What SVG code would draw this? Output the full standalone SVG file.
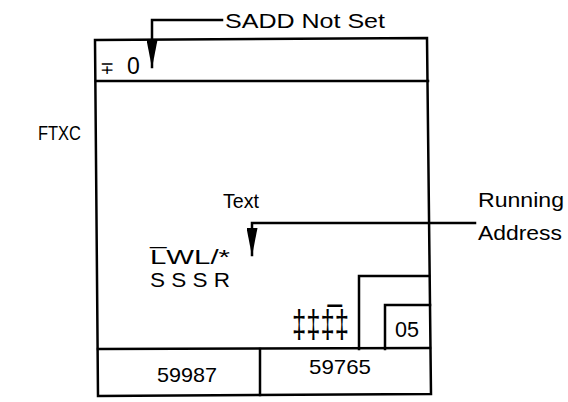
<svg xmlns="http://www.w3.org/2000/svg" width="568" height="402" viewBox="0 0 568 402">
<style>
.ln{fill:none;stroke:#000;stroke-width:2.5;stroke-linecap:square}
.bx{fill:none;stroke:#000;stroke-width:2.5}
.t{font-family:"Liberation Sans",Arial,sans-serif;font-size:21px;fill:#000}
</style>
<defs>
<marker id="ah" markerWidth="28" markerHeight="11" refX="27" refY="5.5" orient="auto" markerUnits="userSpaceOnUse" viewBox="0 0 28 11">
<path d="M0,0 L28,5.5 L0,11 Z" fill="#000"/>
</marker>
</defs>
<rect width="568" height="402" fill="#fff"/>
<g id="frame">
<path class="bx" d="M95,40 L427,38 L431,394 L98,396 Z"/>
<line class="ln" x1="96" y1="81" x2="428" y2="81"/>
<line class="ln" x1="98" y1="349" x2="430" y2="348"/>
<line class="ln" x1="260" y1="349" x2="260" y2="395"/>
</g>
<g id="l-box">
<path class="ln" d="M359,349 L359,276 L429,276"/>
</g>
<g id="box05">
<path class="ln" d="M385,349 L385,305 L430,305"/>
<text class="t" x="407" y="337" text-anchor="middle" textLength="24" lengthAdjust="spacingAndGlyphs" style="font-size:22px">05</text>
</g>
<g id="labels">
<text class="t" x="225" y="28" textLength="160" lengthAdjust="spacingAndGlyphs">SADD Not Set</text>
<text class="t" x="38" y="140" textLength="43" lengthAdjust="spacingAndGlyphs">FTXC</text>
<text class="t" x="100" y="74" style="font-size:17px">∓</text>
<text class="t" x="127" y="74" style="font-size:23px">0</text>
<text class="t" x="223" y="208" textLength="36" lengthAdjust="spacingAndGlyphs">Text</text>
<text class="t" x="478" y="207" textLength="86" lengthAdjust="spacingAndGlyphs">Running</text>
<text class="t" x="478" y="240" textLength="84" lengthAdjust="spacingAndGlyphs">Address</text>
<text class="t" x="150" y="264" textLength="80" lengthAdjust="spacingAndGlyphs">L̅WL/*</text>
<text class="t" x="150" y="287" textLength="80" lengthAdjust="spacingAndGlyphs">S S S  R</text>
<text class="t" x="292" y="337" style="font-size:38px" textLength="57" lengthAdjust="spacingAndGlyphs">‡‡‡̅‡</text>
<text class="t" x="187" y="382" text-anchor="middle" textLength="60" lengthAdjust="spacingAndGlyphs">59987</text>
<text class="t" x="340" y="374" text-anchor="middle" textLength="62" lengthAdjust="spacingAndGlyphs">59765</text>
</g>
<g id="connectors">
<path class="ln" d="M222,20 L152,20 L152,67" marker-end="url(#ah)"/>
<path class="ln" d="M475,223 L252,223 L252,255" marker-end="url(#ah)"/>
</g>
</svg>
